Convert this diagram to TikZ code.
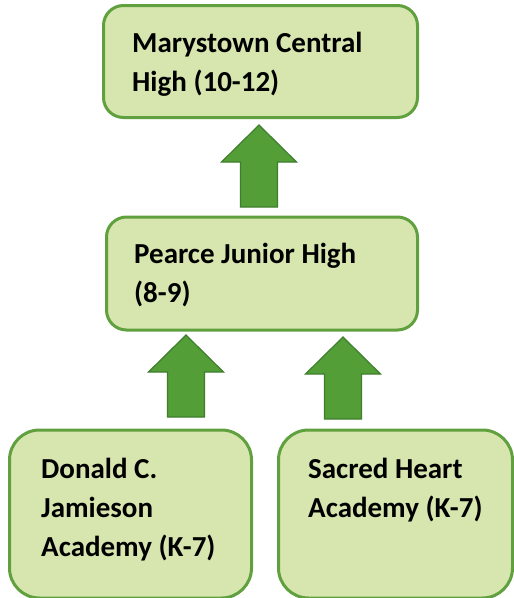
\documentclass[tikz,border=0pt]{standalone}
\usepackage{fontspec}
\setmainfont{Carlito}
\definecolor{boxfill}{RGB}{214,230,174}
\definecolor{boxline}{RGB}{96,160,62}
\definecolor{arrowfill}{RGB}{84,158,56}
\definecolor{arrowline}{RGB}{62,126,44}
\tikzset{
  school/.style={draw=boxline, fill=boxfill, line width=3pt, rounded corners=20pt, inner sep=0pt},
  schooltext/.style={anchor=north west, inner sep=0pt, align=left, font=\fontsize{29}{39}\selectfont\bfseries},
  uparrow/.style={draw=arrowline, fill=arrowfill, line width=1.2pt, line join=miter}
}
\newcommand{\blockup}[1]{%
  \draw[uparrow] (#1) -- ++(37.5,37) -- ++(-19,0) -- ++(0,45) -- ++(-37,0)
    -- ++(0,-45) -- ++(-19,0) -- cycle;}
\begin{document}
\begin{tikzpicture}[x=1pt,y=-1pt]
  \useasboundingbox (0,0) rectangle (514,598);
  \draw
    (260.5,61.5) node[school, minimum width=314, minimum height=112] (mch) {}
    (262,273.5) node[school, minimum width=311, minimum height=113] (pjh) {}
    (130.5,514) node[school, minimum width=242, minimum height=168, rounded corners=30pt] (dcj) {}
    (395.5,514) node[school, minimum width=234, minimum height=168, rounded corners=30pt] (sha) {};
  \node[schooltext] (mchtxt) at (132,32) {Marystown Central\\High (10-12)};
  \node[schooltext] (pjhtxt) at (134,243) {Pearce Junior High\\(8-9)};
  \node[schooltext] (dcjtxt) at (41,458) {Donald C.\\Jamieson\\Academy (K-7)};
  \node[schooltext] (shatxt) at (308,458) {Sacred Heart\\Academy (K-7)};
  \begin{scope}
    \coordinate (up1) at (259,125);
    \coordinate (up2) at (186,335);
    \coordinate (up3) at (343,337);
    \blockup{up1}
    \blockup{up2}
    \blockup{up3}
  \end{scope}
\end{tikzpicture}
\end{document}
